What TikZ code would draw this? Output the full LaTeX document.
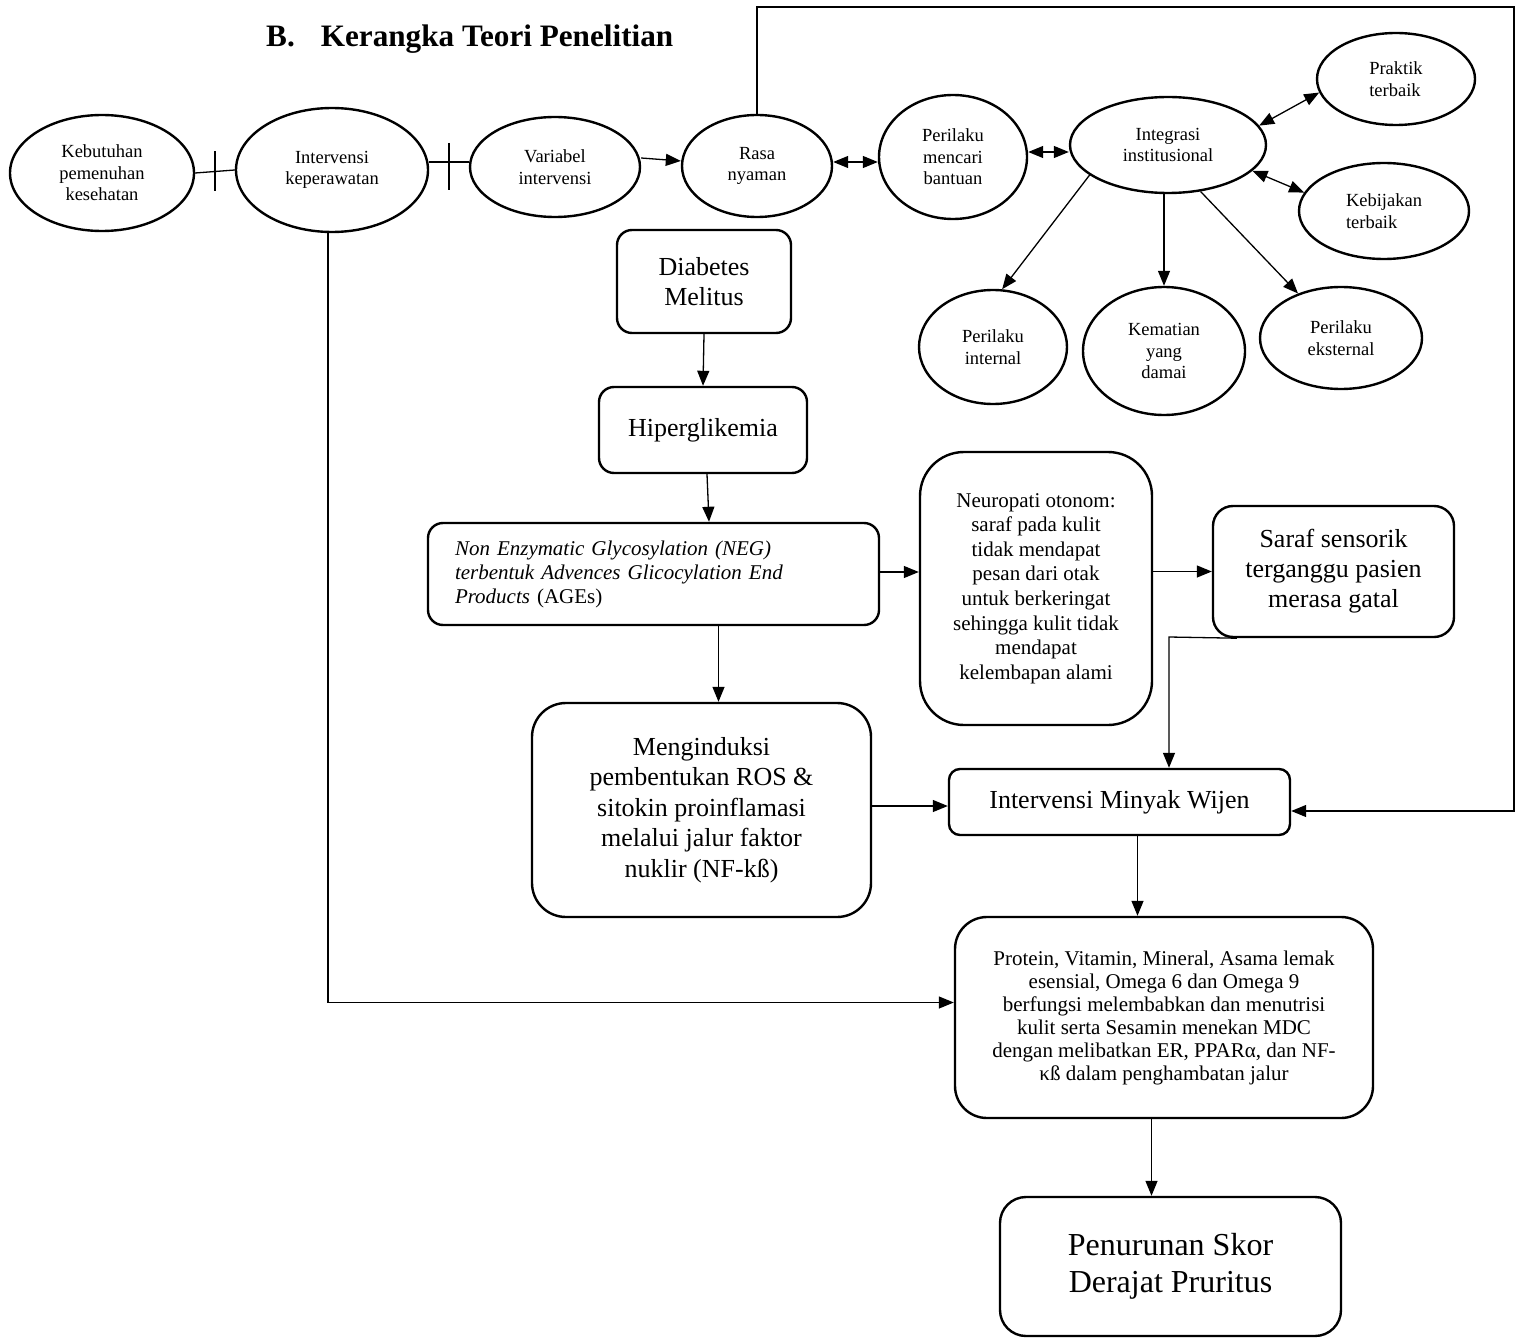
\documentclass[tikz,border=0pt]{standalone}
\usepackage{fontspec}
\setmainfont{Liberation Serif}
\usetikzlibrary{shapes.geometric,arrows.meta,calc}
\begin{document}
\begin{tikzpicture}[x=1pt,y=-1pt,
  ell/.style={draw, ellipse, line width=2.4pt, inner sep=0pt, align=center, font=\fontsize{18.5}{21.5}\selectfont},
  box/.style={draw, rectangle, rounded corners=#1, line width=2.4pt, inner sep=0pt, align=center},
  box/.default=16pt,
  big/.style={font=\fontsize{26}{30}\selectfont},
  small/.style={font=\fontsize{21}{24.6}\selectfont},
  arr/.style={line width=1.3pt, -{Triangle[length=15pt,width=12pt]}},
  darr/.style={line width=1.3pt, {Triangle[length=15pt,width=12pt]}-{Triangle[length=15pt,width=12pt]}},
  ln/.style={line width=1.3pt}]
\useasboundingbox (0,0) rectangle (1520,1340);

% title
\node[anchor=base west, inner sep=0pt, font=\bfseries\fontsize{31.2}{36}\selectfont] (title) at (266,47) {B.\hspace{26pt}Kerangka Teori Penelitian};

% ellipses
\node[ell, minimum width=184, minimum height=116] (keb) at (102,173) {Kebutuhan\\pemenuhan\\kesehatan};
\node[ell, minimum width=192, minimum height=124] (int) at (332,170) {Intervensi\\keperawatan};
\node[ell, minimum width=170, minimum height=100] (var) at (555,167) {Variabel\\intervensi};
\node[ell, minimum width=150, minimum height=102] (rasa) at (757,166) {Rasa\\nyaman};
\node[ell, minimum width=148, minimum height=124] (pm) at (953,157) {Perilaku\\mencari\\bantuan};
\node[ell, minimum width=196, minimum height=96] (integ) at (1168,145) {Integrasi\\institusional};
\node[ell, minimum width=158, minimum height=92, align=left] (prak) at (1396,79) {Praktik\\terbaik};
\node[ell, minimum width=170, minimum height=96, align=left] (kebij) at (1384,211) {Kebijakan\\terbaik};
\node[ell, minimum width=148, minimum height=114] (pint) at (993,347) {Perilaku\\internal};
\node[ell, minimum width=162, minimum height=128] (kem) at (1164,351) {Kematian\\yang\\damai};
\node[ell, minimum width=162, minimum height=102] (peks) at (1341,338) {Perilaku\\eksternal};

% boxes
\node[box=15pt, big, minimum width=174, minimum height=103] (diab) at (704,281.5) {Diabetes\\Melitus};
\node[box=15pt, big, minimum width=208, minimum height=86] (hiper) at (703,430) {Hiperglikemia};
\node[box=15pt, align=left, text width=397pt, inner xsep=27pt, minimum height=102,
      font=\fontsize{21}{24}\selectfont] (neg) at (653.5,574)
  {\textit{Non Enzymatic Glycosylation (NEG)}\\\textit{terbentuk Advences Glicocylation End}\\\textit{Products} (AGEs)};
\node[box=44pt, small, minimum width=232, minimum height=273] (neuro) at (1036,588.5)
  {Neuropati otonom:\\saraf pada kulit\\tidak mendapat\\pesan dari otak\\untuk berkeringat\\sehingga kulit tidak\\mendapat\\kelembapan alami};
\node[box=20pt, big, minimum width=241, minimum height=131] (saraf) at (1333.5,571.5) {Saraf sensorik\\terganggu pasien\\merasa gatal};
\node[box=34pt, minimum width=339, minimum height=214, font=\fontsize{26}{30.5}\selectfont] (ming) at (701.5,810)
  {Menginduksi\\pembentukan ROS \&\\sitokin proinflamasi\\melalui jalur faktor\\nuklir (NF-kß)};
\node[box=11pt, big, minimum width=341, minimum height=66] (minyak) at (1119.5,802) {Intervensi Minyak Wijen};
\node[box=32pt, minimum width=418, minimum height=201, font=\fontsize{21}{23}\selectfont] (prot) at (1164,1017.5)
  {Protein, Vitamin, Mineral, Asama lemak\\esensial, Omega 6 dan Omega 9\\berfungsi melembabkan dan menutrisi\\kulit serta Sesamin menekan MDC\\dengan melibatkan ER, PPARα, dan NF-\\κß dalam penghambatan jalur};
\node[box=26pt, minimum width=341, minimum height=139, font=\fontsize{32}{37}\selectfont] (pen) at (1170.5,1266.5)
  {Penurunan Skor\\Derajat Pruritus};

% top row connectors
\draw[ln] (keb.east) -- coordinate[pos=0.5] (t1) (int.west);
\draw[ln] ([yshift=20pt]t1) -- ([yshift=-20pt]t1);
\draw[ln] ([yshift=8pt]int.east) -- coordinate[pos=0.5] (t2) ([yshift=5pt]var.west);
\draw[ln] ([yshift=19pt]t2) -- ([yshift=-28pt]t2);
\draw[arr] ([yshift=9pt]var.east) -- ([yshift=5pt]rasa.west);
\draw[darr] ([yshift=4pt]rasa.east) -- ([yshift=-5pt]pm.west);
\draw[darr] ([yshift=5pt]pm.east) -- ([yshift=-7pt]integ.west);
\draw[darr] (integ.12) -- (prak.190);
\draw[darr] (integ.-17) -- (kebij.167);
\draw[arr] (integ.201) -- (pint.81);
\draw[arr] (kem.north |- integ.south) -- (kem.north);
\draw[arr] (integ.-55) -- (peks.134);

% loop from Rasa nyaman
\coordinate (tr) at (1514,7);
\draw[arr] (rasa.north) |- (tr) |- ([yshift=-9pt]minyak.east);

% Intervensi keperawatan to Protein
\draw[arr] ([xshift=-4pt]int.south) |- ([yshift=15pt]prot.west);

% flow
\draw[arr] (diab.south) -- (hiper.north);
\draw[arr] ([xshift=4pt]hiper.south) -- ([xshift=6pt]hiper.south |- neg.north);
\draw[arr] ([xshift=17pt]ming.north |- neg.south) -- ([xshift=17pt]ming.north);
\draw[arr] ([yshift=2pt]neg.east) -- ([yshift=2pt]neg.east -| neuro.west);
\draw[arr] (saraf.west -| neuro.east) -- (saraf.west);
\coordinate (sk) at (1169,637);
\draw[arr] ([xshift=25pt]saraf.south west) -- (sk) -- (sk |- minyak.north);
\draw[arr] ([yshift=4pt]ming.east) -- ([yshift=4pt]ming.east -| minyak.west);
\draw[arr] ([xshift=18pt]minyak.south) -- ([xshift=18pt]minyak.south |- prot.north);
\draw[arr] ([xshift=-19pt]pen.north |- prot.south) -- ([xshift=-19pt]pen.north);
\end{tikzpicture}
\end{document}
